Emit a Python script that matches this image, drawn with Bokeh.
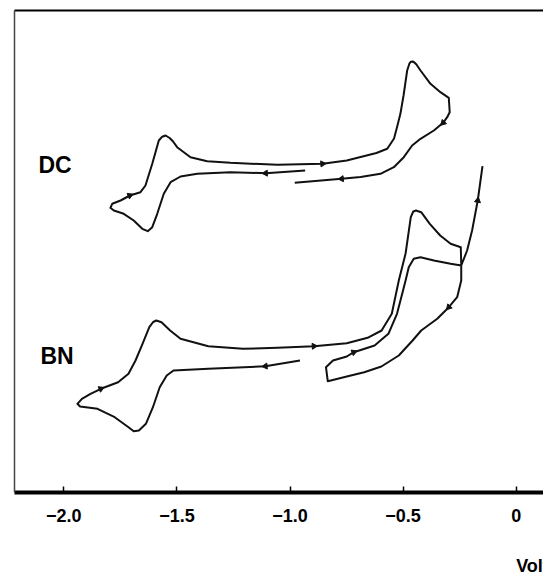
import numpy as np
from bokeh.plotting import figure
from bokeh.models import LinearAxis, FixedTicker, Label, Range1d
from bokeh.core.properties import value
from bokeh.embed import file_html
from bokeh.resources import INLINE

# ---- data: potential (V) and current (arb. units) ----
dc_V = [-0.933, -1.108, -1.263, -1.410, -1.484, -1.528, -1.558, -1.587, -1.609, -1.629,
        -1.653, -1.691, -1.735, -1.779, -1.794, -1.786, -1.749, -1.708, -1.661, -1.639,
        -1.609, -1.580, -1.565, -1.550, -1.532, -1.517, -1.499, -1.440, -1.366, -1.263,
        -1.055, -0.856, -0.749, -0.618, -0.570, -0.540, -0.525, -0.512, -0.498, -0.482,
        -0.472, -0.465, -0.458, -0.450, -0.441, -0.423, -0.379, -0.335, -0.298, -0.294,
        -0.305, -0.323, -0.364, -0.423, -0.460, -0.497, -0.541, -0.600, -0.688, -0.772,
        -0.979]
dc_I = [32.20, 31.93, 32.03, 31.87, 31.60, 31.03, 29.87, 27.87, 26.53, 26.13,
        26.37, 27.20, 27.87, 28.20, 28.47, 28.87, 29.20, 29.70, 30.03, 30.70,
        32.87, 35.20, 35.58, 35.70, 35.45, 35.10, 34.53, 33.53, 33.13, 32.97,
        32.77, 32.87, 33.20, 33.95, 34.37, 35.40, 36.70, 37.87, 39.70, 42.20,
        42.90, 43.08, 43.10, 43.00, 42.80, 42.20, 40.87, 40.03, 39.47, 38.03,
        37.53, 36.97, 36.20, 35.37, 34.70, 33.53, 32.53, 31.87, 31.55, 31.37,
        30.97]

bn_V = [-0.956, -1.109, -1.361, -1.515, -1.545, -1.576, -1.606, -1.637, -1.668, -1.691,
        -1.714, -1.775, -1.851, -1.928, -1.940, -1.920, -1.882, -1.836, -1.760, -1.714,
        -1.683, -1.652, -1.622, -1.605, -1.591, -1.568, -1.530, -1.484, -1.361, -1.208,
        -1.055, -0.894, -0.749, -0.657, -0.595, -0.550, -0.519, -0.489, -0.466, -0.455,
        -0.443, -0.420, -0.382, -0.336, -0.290, -0.245, -0.243, -0.243, -0.261, -0.298,
        -0.349, -0.420, -0.458, -0.519, -0.596, -0.672, -0.749, -0.833, -0.841, -0.810,
        -0.749, -0.718, -0.626, -0.565, -0.527, -0.504, -0.489, -0.475, -0.453, -0.423,
        -0.364, -0.290, -0.243, -0.217, -0.195, -0.170, -0.149]
bn_I = [13.20, 12.63, 12.37, 12.20, 11.70, 10.53, 8.53, 6.87, 6.20, 6.13,
        6.53, 7.53, 8.37, 8.60, 8.87, 9.37, 9.87, 10.37, 11.03, 11.87,
        13.20, 14.87, 16.53, 17.05, 17.20, 17.03, 16.20, 15.37, 14.63, 14.37,
        14.47, 14.63, 14.93, 15.47, 16.20, 17.87, 21.20, 23.90, 27.53, 28.10,
        28.20, 28.03, 26.87, 25.70, 24.87, 24.53, 22.87, 21.20, 19.53, 18.53,
        17.37, 16.20, 15.20, 13.70, 12.60, 12.03, 11.60, 11.13, 12.53, 13.20,
        13.60, 14.03, 14.70, 15.87, 17.87, 19.87, 21.20, 22.53, 23.37, 23.53,
        23.20, 22.87, 22.70, 24.20, 26.20, 29.20, 32.63]

# scan-direction arrows (points on the curves)
dc_arrow_V = [-1.108, -1.708, -0.856, -0.323, -0.772]
dc_arrow_I = [31.93, 29.70, 32.87, 36.97, 31.37]
bn_arrow_V = [-1.109, -1.836, -0.894, -0.298, -0.718, -0.170]
bn_arrow_I = [12.63, 10.37, 14.63, 18.53, 14.03, 29.20]

tick_values = [-2.0, -1.5, -1.0, -0.5, 0.0]
tick_labels = ["\u22122.0", "\u22121.5", "\u22121.0", "\u22120.5", "0"]

curve_names = ["DC", "BN"]
name_V = [-2.112, -2.103]
name_I = [32.8, 13.7]

x_unit_label = "Volts"
x_unit_label_V = 0.0
x_unit_label_I = -7.3

# ---- figure ----
X0, X1 = -2.218, 0.1207
Y0, Y1 = 0.0, 48.2
W, H = 543, 574
BL, BR, BT, BB = 14, 0, 10, 82

p = figure(width=W, height=H, output_backend="svg", toolbar_location=None,
           x_range=Range1d(X0, X1), y_range=Range1d(Y0, Y1),
           min_border_left=BL, min_border_right=BR, min_border_top=BT, min_border_bottom=BB)
p.background_fill_color = "white"
p.border_fill_color = "white"
p.outline_line_color = None
p.grid.visible = False

FONT = "Liberation Sans"

xa = p.xaxis[0]
xa.ticker = FixedTicker(ticks=tick_values)
xa.major_label_overrides = {v: s for v, s in zip(tick_values, tick_labels)}
xa.axis_line_width = 4
xa.axis_line_color = "black"
xa.major_tick_in = 6
xa.major_tick_out = 0
xa.major_tick_line_width = 1.5
xa.minor_tick_in = 0
xa.minor_tick_out = 0
xa.major_label_text_font = FONT
xa.major_label_text_font_style = "bold"
xa.major_label_text_font_size = "18px"
xa.major_label_text_color = "black"
xa.major_label_standoff = 16

ya = p.yaxis[0]
ya.ticker = FixedTicker(ticks=[])
ya.axis_line_width = 1.5
ya.axis_line_color = "#444444"
ya.major_tick_out = 0
ya.major_tick_in = 0
ya.minor_tick_out = 0
ya.minor_tick_in = 0
ya.major_label_text_font_size = "0px"
ya.major_label_standoff = 0

top = LinearAxis(ticker=FixedTicker(ticks=[]), axis_line_width=2, axis_line_color="black",
                 major_tick_out=0, major_tick_in=0, minor_tick_out=0, minor_tick_in=0,
                 major_label_text_font_size="0px", major_label_standoff=0)
p.add_layout(top, "above")

LC = "#111111"
p.line(dc_V, dc_I, line_color=LC, line_width=2, line_join="round")
p.line(bn_V, bn_I, line_color=LC, line_width=2, line_join="round")

sx = (W - BL - BR) / (X1 - X0)
sy = (H - BT - BB) / (Y1 - Y0)

def arrow_angles(V, I, aV, aI):
    V = np.asarray(V); I = np.asarray(I)
    out = []
    for v, i in zip(aV, aI):
        k = int(np.argmin(((V - v) * sx) ** 2 + ((I - i) * sy) ** 2))
        k0 = max(k - 1, 0); k1 = min(k + 1, len(V) - 1)
        dx = (V[k1] - V[k0]) * sx
        dy = (I[k1] - I[k0]) * sy
        out.append(float(np.arctan2(dy, dx) - np.pi / 2))
    return out

p.scatter(dc_arrow_V, dc_arrow_I, marker="triangle", size=6,
          angle=arrow_angles(dc_V, dc_I, dc_arrow_V, dc_arrow_I),
          fill_color=LC, line_color=LC)
p.scatter(bn_arrow_V, bn_arrow_I, marker="triangle", size=6,
          angle=arrow_angles(bn_V, bn_I, bn_arrow_V, bn_arrow_I),
          fill_color=LC, line_color=LC)

p.text(name_V, name_I, text=curve_names, text_font=value(FONT), text_font_style="bold",
       text_font_size="23px", text_align="left", text_baseline="middle", text_color="black")

# unit label lies outside the frame, so it is placed in the lower side panel
p.add_layout(Label(x=x_unit_label_V, y=x_unit_label_I, x_units="data", y_units="data",
                   text=x_unit_label, text_font=FONT, text_font_style="bold",
                   text_font_size="18px", text_align="left", text_baseline="alphabetic",
                   text_color="black"), "below")

open("out.html", "w").write(file_html(p, INLINE))
